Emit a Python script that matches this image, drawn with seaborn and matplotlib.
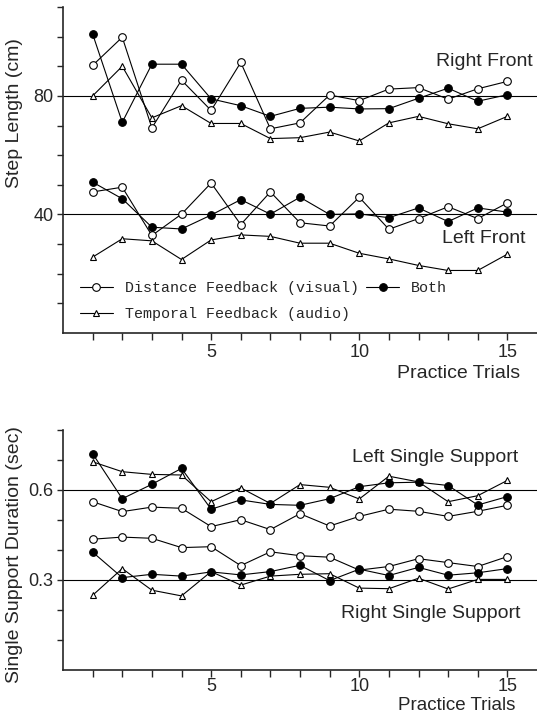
import matplotlib
matplotlib.use("Agg")
import matplotlib.pyplot as plt
import seaborn as sns
import pandas as pd

trials = list(range(1, 16))

# step length (cm)
rf_dist = [90.3, 99.8, 69.2, 85.3, 75.1, 91.3, 68.9, 70.9, 80.3, 78.4, 82.3, 82.8, 78.9, 82.4, 84.9]
rf_both = [100.9, 71.1, 90.7, 90.7, 79.0, 76.7, 73.1, 75.8, 76.2, 75.6, 75.7, 79.2, 82.6, 78.2, 80.4]
rf_temp = [80.0, 90.0, 72.6, 76.7, 70.7, 70.7, 65.6, 65.9, 67.8, 64.8, 70.9, 73.1, 70.6, 68.9, 73.1]
lf_dist = [47.6, 49.2, 32.9, 40.1, 50.6, 36.6, 47.6, 37.2, 36.1, 45.8, 35.0, 38.6, 42.6, 38.6, 43.9]
lf_both = [50.9, 45.3, 35.7, 35.1, 39.8, 45.0, 40.1, 45.8, 40.0, 40.2, 38.9, 42.2, 37.6, 42.2, 40.8]
lf_temp = [25.6, 31.8, 31.1, 24.8, 31.4, 33.1, 32.6, 30.3, 30.3, 26.9, 25.0, 22.8, 21.1, 21.1, 26.6]

# single support duration (sec)
ls_dist = [0.561, 0.528, 0.543, 0.539, 0.478, 0.501, 0.468, 0.521, 0.480, 0.512, 0.536, 0.529, 0.512, 0.529, 0.549]
ls_both = [0.721, 0.571, 0.619, 0.672, 0.536, 0.567, 0.552, 0.549, 0.571, 0.611, 0.624, 0.626, 0.615, 0.550, 0.578]
ls_temp = [0.694, 0.661, 0.652, 0.650, 0.561, 0.607, 0.555, 0.618, 0.609, 0.570, 0.646, 0.627, 0.561, 0.581, 0.632]
rs_dist = [0.436, 0.443, 0.439, 0.408, 0.411, 0.348, 0.394, 0.381, 0.376, 0.333, 0.345, 0.371, 0.358, 0.345, 0.378]
rs_both = [0.393, 0.308, 0.319, 0.313, 0.327, 0.317, 0.328, 0.349, 0.298, 0.336, 0.315, 0.342, 0.316, 0.324, 0.338]
rs_temp = [0.249, 0.338, 0.266, 0.247, 0.328, 0.283, 0.313, 0.319, 0.321, 0.273, 0.271, 0.306, 0.270, 0.302, 0.302]

legend_names = ["Distance Feedback (visual)", "Temporal Feedback (audio)", "Both"]

sns.set_style("ticks")
plt.rcParams['font.family'] = ['Liberation Sans', 'DejaVu Sans']

STYLE = {
    "dist": dict(marker="o", markerfacecolor="white", markersize=5.5),
    "temp": dict(marker="^", markerfacecolor="white", markersize=4.8),
    "both": dict(marker="o", markerfacecolor="black", markersize=5.5),
}


def draw_series(ax, y, kind, label=None):
    sns.lineplot(x=trials, y=y, ax=ax, color="black", lw=0.8,
                 markeredgecolor="black", markeredgewidth=0.8,
                 label=label if label else "_nolegend_", **STYLE[kind])


def style_axes(ax, ylim, yticks, ylabels, hlines, xpad=3):
    ax.set_xlim(0, 16)
    ax.set_ylim(*ylim)
    for h in hlines:
        ax.axhline(h, color="black", lw=0.8, zorder=0)
    ax.set_xticks(trials)
    ax.set_xticklabels([str(t) if t % 5 == 0 else "" for t in trials], fontsize=13)
    ax.set_yticks(yticks)
    ax.set_yticklabels(ylabels, fontsize=13)
    ax.tick_params(axis="x", direction="out", length=5, width=1, pad=xpad)
    ax.tick_params(axis="y", direction="out", length=4, width=1, pad=3)
    sns.despine(ax=ax, top=True, right=True)
    for s in ("left", "bottom"):
        ax.spines[s].set_linewidth(1.2)
    ax.set_xlabel("Practice Trials", fontsize=14, loc="right")


fig = plt.figure(figsize=(5.37, 7.15), dpi=100)
ax1 = fig.add_axes([63 / 537, 1 - 333 / 715, 474 / 537, 326 / 715])
ax2 = fig.add_axes([63 / 537, 1 - 670 / 715, 474 / 537, 240 / 715])

# top panel
draw_series(ax1, rf_dist, "dist", legend_names[0])
draw_series(ax1, rf_temp, "temp", legend_names[1])
draw_series(ax1, rf_both, "both", legend_names[2])
draw_series(ax1, lf_dist, "dist")
draw_series(ax1, lf_temp, "temp")
draw_series(ax1, lf_both, "both")
style_axes(ax1, (0, 110), list(range(10, 111, 10)),
           ["" if v not in (40, 80) else str(v) for v in range(10, 111, 10)], [80, 40])
ax1.set_ylabel("Step Length (cm)", fontsize=14)
ax1.yaxis.set_label_coords(-0.085, 0.675)
ax1.xaxis.set_label_coords(0.965, -0.125)
ax1.xaxis.label.set_va("center")
ax1.text(12.6, 91.5, "Right Front", fontsize=14, va="center", ha="left")
ax1.text(12.8, 31.9, "Left Front", fontsize=14, va="center", ha="left")
leg = ax1.legend(loc="upper left", bbox_to_anchor=(0.035, 0.158), ncol=2, frameon=False,
                 prop={"family": ["Liberation Mono", "DejaVu Sans Mono"], "size": 10.8},
                 handlelength=2.2, handletextpad=0.8, columnspacing=0.5,
                 labelspacing=0.8, borderpad=0, borderaxespad=0)

# bottom panel
draw_series(ax2, ls_dist, "dist")
draw_series(ax2, ls_temp, "temp")
draw_series(ax2, ls_both, "both")
draw_series(ax2, rs_dist, "dist")
draw_series(ax2, rs_temp, "temp")
draw_series(ax2, rs_both, "both")
yt = [0.1, 0.2, 0.3, 0.4, 0.5, 0.6, 0.7, 0.8]
style_axes(ax2, (0, 0.8), yt, ["0.3" if v == 0.3 else "0.6" if v == 0.6 else "" for v in yt],
           [0.6, 0.3], xpad=1)
ax2.set_ylabel("Single Support Duration (sec)", fontsize=14)
ax2.yaxis.set_label_coords(-0.085, 0.48)
ax2.xaxis.set_label_coords(0.955, -0.15)
ax2.xaxis.label.set_va("center")
ax2.xaxis.label.set_fontsize(13.5)
ax2.text(9.74, 0.707, "Left Single Support", fontsize=14, va="center", ha="left")
ax2.text(9.4, 0.19, "Right Single Support", fontsize=14, va="center", ha="left")

fig.savefig("out.png", dpi=100, facecolor="white")
